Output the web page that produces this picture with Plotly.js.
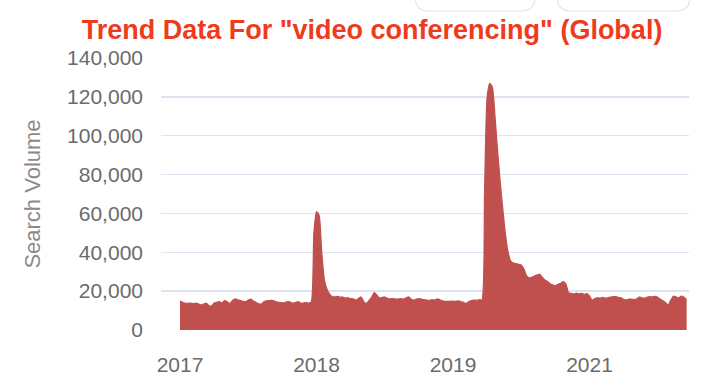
<!DOCTYPE html>
<html>
<head>
<meta charset="utf-8">
<script src="https://cdn.plot.ly/plotly-3.0.1.min.js"></script>
<style>html,body{margin:0;padding:0;background:#fff;}#chart{width:710px;height:385px;}</style>
</head>
<body>
<div id="chart"></div>
<script>
// Weekly search volume, index 0 = first week of the series
const searchVolume = [
  15100, 14200, 13800, 13700, 13900, 13600, 13800, 13500, 12900, 13400,
  13800, 12600, 12300, 13900, 14300, 14600, 14000, 15100, 14500, 13700,
  15200, 16000, 15600, 15100, 14800, 14600, 15400, 15900, 14900, 14200,
  13500, 13400, 14600, 15000, 15100, 15200, 14900, 14400, 14200, 14000,
  14100, 14600, 14400, 13800, 14200, 14600, 13900, 13900, 14100, 13800,
  14500, 50000, 61000, 59000, 40000, 26000, 21000, 18500, 17200, 17000,
  17300, 16900, 17000, 16400, 16600, 16200, 16000, 15400, 16200, 17000,
  14600, 13700, 15200, 16800, 19200, 18000, 16500, 16800, 17000, 16300,
  16000, 16200, 16000, 15900, 16100, 15900, 16400, 17000, 16000, 15400,
  15900, 16200, 15900, 15600, 15400, 15300, 15600, 15400, 16000, 15600,
  15000, 14800, 14700, 14800, 14900, 14700, 15000, 14600, 14200, 13700,
  14600, 15200, 15400, 15300, 15600, 15500, 70000, 120000, 127000, 125000,
  110000, 92000, 76000, 62000, 49000, 40000, 35500, 34500, 34200, 33800,
  33500, 31500, 28000, 26800, 27200, 27800, 28300, 28800, 27200, 25700,
  25000, 23800, 23200, 22800, 23500, 24000, 24900, 23800, 19200, 18900,
  18500, 19000, 18600, 18900, 18400, 18700, 17500, 15400, 16200, 16600,
  16400, 16800, 16300, 16600, 16900, 17200, 17200, 16800, 16600, 15800,
  15400, 15900, 15900, 15700, 16000, 17000, 16500, 16400, 16900, 17200,
  17000, 17300, 16800, 15800, 15000, 14000, 12900, 15500, 17500, 17000,
  16500, 17500, 16800, 15500
];
const weekIndex = searchVolume.map((v, i) => i);
const xTickWeeks = [0, 52, 104, 156];
const xTickLabels = ['2017', '2018', '2019', '2021'];
const yTickValues = [0, 20000, 40000, 60000, 80000, 100000, 120000, 140000];
const yTickLabels = ['0', '20,000', '40,000', '60,000', '80,000', '100,000', '120,000', '140,000'];

const trace = {
  x: weekIndex,
  y: searchVolume,
  type: 'scatter',
  mode: 'lines',
  fill: 'tozeroy',
  fillcolor: 'rgb(192,80,78)',
  line: {color: 'rgb(192,80,78)', width: 1.2, shape: 'spline', smoothing: 0.6},
  hoverinfo: 'skip'
};

function btnPath(x0, x1) {
  // rounded bottom corners, top cut off by the page edge
  const px = v => ((v - 161) / 528).toFixed(5);
  const py = v => ((330 - v) / 272).toFixed(5);
  const r = 14, top = -6, bot = 11;
  return 'M ' + px(x0) + ' ' + py(top) + ' L ' + px(x0) + ' ' + py(bot - r) +
    ' Q ' + px(x0) + ' ' + py(bot) + ' ' + px(x0 + r) + ' ' + py(bot) +
    ' L ' + px(x1 - r) + ' ' + py(bot) +
    ' Q ' + px(x1) + ' ' + py(bot) + ' ' + px(x1) + ' ' + py(bot - r) +
    ' L ' + px(x1) + ' ' + py(top);
}

const layout = {
  width: 710,
  height: 385,
  margin: {l: 161, r: 21, t: 58, b: 55},
  paper_bgcolor: '#ffffff',
  plot_bgcolor: '#ffffff',
  showlegend: false,
  font: {family: '"Liberation Sans", Arial, sans-serif', color: '#6b6b6b'},
  title: {
    text: 'Trend Data For "video conferencing" (Global)',
    font: {family: '"Liberation Sans", Arial, sans-serif', size: 27, color: '#ee3b1c', weight: 'bold'},
    x: 0.524, xanchor: 'center', xref: 'container',
    y: 0.922, yanchor: 'middle', yref: 'container'
  },
  xaxis: {
    range: [-7.24, 193.9],
    tickvals: xTickWeeks,
    ticktext: xTickLabels,
    showgrid: false,
    zeroline: false,
    showline: false,
    ticks: '',
    ticklabelstandoff: 20,
    tickfont: {size: 21, color: '#6b6b6b'},
    fixedrange: true
  },
  yaxis: {
    range: [0, 140000],
    tickvals: yTickValues,
    ticktext: yTickLabels,
    showgrid: true,
    gridcolor: '#dde3f0',
    gridwidth: 1.5,
    zeroline: false,
    showline: false,
    ticks: '',
    ticklabelstandoff: 17,
    tickfont: {size: 21, color: '#6b6b6b'},
    title: {text: 'Search Volume', font: {size: 22, color: '#8a8a8a'}, standoff: 20},
    fixedrange: true
  },
  shapes: [
    {type: 'path', xref: 'paper', yref: 'paper', path: btnPath(415, 535), line: {color: '#e4e6ec', width: 1.2}},
    {type: 'path', xref: 'paper', yref: 'paper', path: btnPath(557, 690), line: {color: '#e4e6ec', width: 1.2}}
  ]
};

Plotly.newPlot('chart', [trace], layout, {displayModeBar: false, staticPlot: true});
</script>
</body>
</html>
